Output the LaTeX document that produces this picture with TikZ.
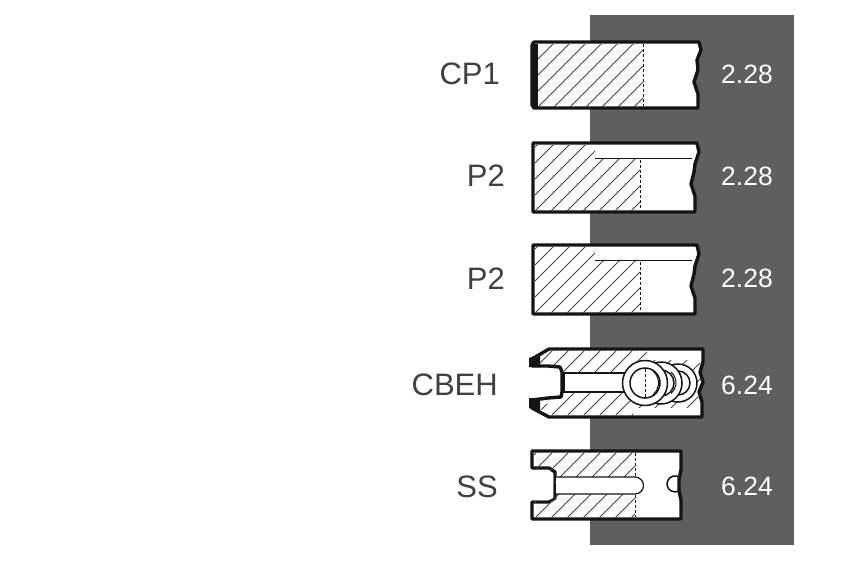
\documentclass[tikz,border=0pt]{standalone}
\usepackage{fontspec}
\setmainfont{Liberation Sans}
\definecolor{panel}{HTML}{5F5F5F}
\definecolor{ink}{HTML}{141414}
\tikzset{
  ringbody/.style={draw=ink,line width=3.4pt,fill=white,line join=round},
  hatchline/.style={draw=ink!80,line width=1pt},
  edgeline/.style={draw=ink,line width=1pt},
  slotfill/.style={draw=ink,line width=1.2pt,fill=white},
  coil/.style={draw=ink,line width=1.5pt},
  lab/.style={text=black!75,font=\fontsize{31}{33}\selectfont,anchor=east,inner sep=0pt},
  val/.style={text=white,font=\fontsize{26.5}{28}\selectfont,anchor=center,inner sep=0pt}
}
% hatch across a clip region, lines rising to the right
\newcommand{\hatchbox}[4]{%
  \begin{scope}
    \clip #4;
    \foreach \k in {0,...,24}{
      \draw[hatchline] ({#1+\k*#3-80},#2+80) -- ++(100,-100);
    }
  \end{scope}}
\begin{document}
\begin{tikzpicture}[x=1pt,y=-1pt]
\useasboundingbox (0,0) rectangle (850,563);
\fill[white] (0,0) rectangle (850,563);
\fill[panel] (590,15) rectangle (794,545);

% Ring 1
\draw[ringbody] (534,42) -- (699,42) -- (701,50) -- (697,60) -- (698,70) -- (694,82) -- (698,94) -- (698,108) -- (534,108) -- (532,105) -- (532,45) -- cycle;
\hatchbox{535}{30}{16}{(537,44) rectangle (643,106)}
\draw[edgeline,densely dashed] (643,44) -- (643,106);
\fill[ink] (531,44) rectangle (538,107);

% Ring 2
\draw[ringbody] (533,143) -- (697,143) -- (699,152) -- (695,164) -- (694,172) -- (691,184) -- (695,196) -- (695,212) -- (533,212) -- cycle;
\hatchbox{535}{131}{16}{(535,145) rectangle (640,210)}
\fill[white] (595,144.6) rectangle (695,158);
\draw[edgeline] (595,158) -- (692,158);
\draw[edgeline,densely dashed] (640,160) -- (640,210);

% Ring 3
\draw[ringbody] (533,245) -- (697,245) -- (699,254) -- (695,266) -- (694,274) -- (691,286) -- (695,298) -- (695,314) -- (533,314) -- cycle;
\hatchbox{535}{233}{16}{(535,247) rectangle (640,312)}
\fill[white] (595,246.6) rectangle (695,260);
\draw[edgeline] (595,260) -- (692,260);
\draw[edgeline,densely dashed] (640,262) -- (640,312);

% Ring 4
\draw[ringbody] (549,349) -- (703,349) -- (703,362) -- (700,372) -- (703,382) -- (699,392) -- (702,402) -- (702,417) -- (549,417) -- (532,408) -- (532,400) -- (548,398) -- (561,397) -- (562,392) -- (562,372) -- (560,367) -- (548,366) -- (532,366) -- (532,359) -- cycle;
\hatchbox{535}{336}{16}{(538,351) -- (700,351) -- (700,415) -- (550,415) -- (537,407) -- (562,399) -- (564,366) -- (537,364) -- cycle}
\fill[ink] (529,358) -- (540,354) -- (540,367) -- (529,367) -- cycle;
\fill[ink] (529,398) -- (540,398) -- (540,411) -- (529,408) -- cycle;
\fill[white] (647,351) rectangle (701,360);
\fill[white] (633,408) rectangle (700,415.4);
\draw[slotfill] (628,373) -- (564,373) -- (564,392) -- (628,392);
\draw[coil,fill=white] (678,383) circle (19);
\draw[coil,fill=white] (678,383) circle (12);
\draw[coil,fill=white] (661,383) circle (21);
\draw[coil,fill=white] (661,383) circle (13);
\draw[coil,fill=white] (645,383) circle (22.5);
\draw[coil,fill=white] (645,383) circle (15);
\draw[edgeline,densely dashed] (645,369) -- (645,397);
\draw[edgeline] (653,371) arc[start angle=-50,end angle=50,radius=15.5];
\draw[edgeline] (671,372) arc[start angle=-50,end angle=50,radius=14];

% Ring 5
\draw[ringbody] (532,451) -- (681,451) -- (681,470) -- (679,479) -- (679,491) -- (681,500) -- (681,519) -- (532,519) -- (532,502) -- (549,502) -- (555,498) -- (555,472) -- (549,468) -- (532,468) -- cycle;
\hatchbox{535}{438}{16}{(534,453) rectangle (635,517)}
\fill[white] (534,470) -- (549,470) -- (553,474) -- (553,498) -- (549,500) -- (534,500) -- cycle;
\draw[slotfill] (556,477) -- (635,477) arc[start angle=-90,end angle=90,radius=8.5] -- (556,494);
\draw[edgeline,densely dashed] (635,453) -- (635,476);
\draw[edgeline,densely dashed] (635,495) -- (635,517);
\draw[coil] (679,477) arc[start angle=-60,end angle=-300,radius=8];

% Labels
\node[lab] (l1) at (500,74) {CP1};
\node[lab] (l2) at (505,176) {P2};
\node[lab] (l3) at (505,279) {P2};
\node[lab] (l4) at (498,385) {CBEH};
\node[lab] (l5) at (498,487) {SS};
\node[val] (v1) at (747,74) {2.28};
\node[val] (v2) at (747,176) {2.28};
\node[val] (v3) at (747,278) {2.28};
\node[val] (v4) at (747,385) {6.24};
\node[val] (v5) at (747,486) {6.24};
\end{tikzpicture}
\end{document}
